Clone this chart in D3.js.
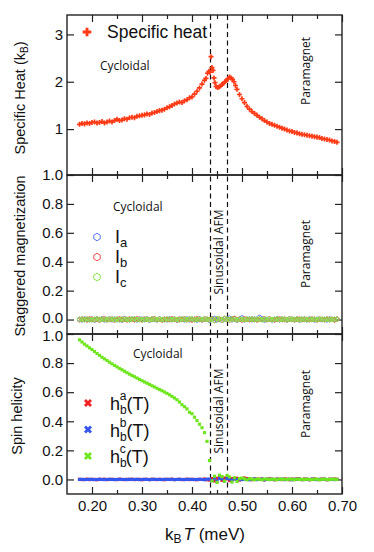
<!DOCTYPE html>
<html><head><meta charset="utf-8">
<script src="https://cdn.jsdelivr.net/npm/d3@7"></script>
<style>html,body{margin:0;padding:0;background:#fff;}svg{display:block;}</style>
</head><body><svg id="chart" width="374" height="552"></svg>
<script>
// ---------------- DATA ----------------
const xTickValues = [0.20, 0.30, 0.40, 0.50, 0.60, 0.70];
const xMinorTicks = [0.25, 0.35, 0.45, 0.55, 0.65];
const heatTicks = [1, 2, 3];
const fracTicks = [0.0, 0.2, 0.4, 0.6, 0.8, 1.0];
const transitions = [0.437, 0.471];

// specific heat
const heatT = [0.175,0.180,0.185,0.190,0.195,0.200,0.205,0.210,0.215,0.220,0.225,0.230,0.235,0.240,0.245,0.250,0.255,0.260,0.265,0.270,
  0.275,0.280,0.285,0.290,0.295,0.300,0.305,0.310,0.315,0.320,0.325,0.330,0.335,0.340,0.345,0.350,0.355,0.360,0.365,0.370,
  0.375,0.380,0.385,0.390,0.395,0.400,0.405,0.410,0.415,0.420,0.425,0.428,0.431,0.434,0.436,0.438,0.440,0.442,0.444,0.446,
  0.448,0.451,0.454,0.457,0.460,0.463,0.466,0.469,0.472,0.475,0.478,0.481,0.484,0.487,0.490,0.495,0.500,0.505,0.510,0.515,
  0.520,0.525,0.530,0.535,0.540,0.545,0.550,0.555,0.560,0.565,0.570,0.575,0.580,0.585,0.590,0.595,0.600,0.605,0.610,0.615,
  0.620,0.625,0.630,0.635,0.640,0.645,0.650,0.655,0.660,0.665,0.670,0.675,0.680,0.685,0.690];
const heatC = [1.10,1.12,1.11,1.13,1.12,1.14,1.15,1.13,1.14,1.16,1.13,1.15,1.17,1.15,1.18,1.21,1.18,1.19,1.22,1.21,
  1.24,1.25,1.24,1.27,1.28,1.29,1.30,1.32,1.31,1.34,1.35,1.37,1.39,1.40,1.42,1.45,1.47,1.50,1.53,1.55,
  1.57,1.56,1.60,1.62,1.66,1.68,1.74,1.80,1.87,1.95,2.03,2.07,2.18,2.22,2.20,2.53,2.30,2.24,2.08,1.98,
  1.90,1.88,1.89,1.91,1.94,1.97,2.00,2.03,2.06,2.10,2.08,2.05,2.00,1.92,1.84,1.73,1.64,1.56,1.48,1.42,
  1.37,1.33,1.29,1.25,1.22,1.18,1.15,1.12,1.10,1.08,1.06,1.04,1.02,1.00,0.98,0.96,0.95,0.93,0.92,0.90,
  0.89,0.88,0.87,0.86,0.85,0.84,0.83,0.82,0.80,0.79,0.78,0.77,0.75,0.74,0.72];

// common temperature grid for magnetization / helicity
const temps = [0.175,0.180,0.185,0.190,0.195,0.200,0.205,0.210,0.215,0.220,0.225,0.230,0.235,
  0.240,0.245,0.250,0.255,0.260,0.265,0.270,0.275,0.280,0.285,0.290,0.295,0.300,
  0.305,0.310,0.315,0.320,0.325,0.330,0.335,0.340,0.345,0.350,0.355,0.360,0.365,
  0.370,0.375,0.380,0.385,0.390,0.395,0.400,0.405,0.410,0.415,0.420,0.425,0.430,
  0.435,0.440,0.445,0.450,0.455,0.460,0.465,0.470,0.475,0.480,0.485,0.490,0.495,
  0.500,0.505,0.510,0.515,0.520,0.525,0.530,0.535,0.540,0.545,0.550,0.555,0.560,
  0.565,0.570,0.575,0.580,0.585,0.590,0.595,0.600,0.605,0.610,0.615,0.620,0.625,
  0.630,0.635,0.640,0.645,0.650,0.655,0.660,0.665,0.670,0.675,0.680,0.685,0.690];

// staggered magnetization
const magA = [.002,-.003,.004,.001,-.002,.003,-.004,.002,.000,.005,-.003,.001,.004,
  -.002,.003,-.001,.002,-.004,.006,.001,-.002,.003,.000,-.003,.004,.002,
  -.001,.003,-.005,.002,.001,-.003,.004,.000,.002,-.002,.005,-.001,.003,
  -.004,.002,.001,-.003,.004,-.002,.003,.001,-.004,.005,-.002,.003,.001,
  -.006,.004,.008,-.003,.002,-.006,.004,.003,.010,-.002,.004,-.005,.003,
  .012,-.003,.002,.004,-.002,.003,.000,.015,.005,-.004,.002,.003,-.003,
  .001,.004,-.002,.003,.000,-.003,.004,.002,-.001,.003,-.004,.002,.001,
  -.002,.004,.000,-.003,.002,.003,-.001,.002,-.003,.004,.001,-.002,.003];
const magB = [-.002,.004,.001,-.003,.005,.002,-.001,.003,-.004,.002,.006,-.002,.001,
  .003,-.004,.002,.005,-.001,.003,-.003,.004,.001,-.002,.005,.000,-.003,
  .004,.002,-.002,.003,.006,-.001,.002,-.004,.003,.001,-.002,.005,.002,
  -.003,.004,.001,.005,-.002,.003,-.004,.002,.006,.001,-.003,.004,.002,
  -.001,.003,-.006,.005,.002,-.004,.007,.001,-.003,.004,.008,-.002,.003,
  -.004,.005,.001,-.002,.004,.002,-.003,.003,.001,.005,-.002,.004,.000,
  -.003,.002,.005,-.001,.003,-.002,.004,.001,-.003,.002,.004,-.001,.003,
  .001,-.002,.004,.002,-.003,.003,.001,-.002,.004,.000,.002,-.003,.003];
const magC = [.001,.003,-.002,.004,.000,-.003,.002,.005,-.001,.003,.001,-.002,.004,
  .002,-.001,.003,-.003,.004,.001,.002,-.002,.003,.005,-.001,.002,-.003,
  .003,.001,-.002,.004,.002,-.001,.003,.000,-.003,.004,.002,-.001,.003,
  .001,-.003,.004,.002,-.001,.003,.005,-.002,.001,.003,-.001,.004,.002,
  -.003,.002,-.008,.006,.004,-.005,.007,.003,-.002,.005,.002,-.003,.004,
  .001,-.002,.003,.002,.004,-.001,.003,.002,-.002,.004,.001,.003,-.001,
  .002,.004,-.001,.003,.001,-.002,.003,.002,.000,.004,-.001,.002,.003,
  -.002,.003,.001,.002,-.001,.004,.002,.000,.003,-.002,.001,.003,.002];

// spin helicity
const helA = [.001,-.001,.000,.002,-.001,.001,.000,-.002,.001,.000,.002,-.001,.000,
  .001,.000,-.001,.002,.000,-.001,.001,.000,.002,-.001,.000,.001,-.002,
  .000,.001,-.001,.002,.000,-.001,.001,.000,-.002,.001,.000,.002,-.001,
  .000,.001,-.001,.000,.002,-.001,.001,.000,-.002,.001,.000,.003,-.002,
  -.004,.006,-.010,.008,.012,-.006,.010,.004,-.008,.006,.003,.008,-.004,
  .005,.010,.006,.003,-.002,.004,.002,.001,.003,-.003,.002,.004,.001,
  -.002,.003,.001,-.001,.004,.002,-.002,.003,.000,.005,.002,-.001,.003,
  .001,-.002,.002,.004,.000,-.001,.003,.001,-.002,.002,.000,.003,.001];
const helB = [.000,.001,-.001,.000,.001,.000,-.001,.000,.001,.000,-.001,.000,.001,
  .000,-.001,.000,.001,.000,.000,-.001,.001,.000,.000,.001,-.001,.000,
  .001,.000,-.001,.000,.001,.000,.000,-.001,.001,.000,.000,.001,-.001,
  .000,.001,.000,-.001,.000,.001,.000,-.001,.000,.001,.000,-.002,.002,
  .002,-.008,.010,-.012,.006,.004,-.010,.008,.003,-.005,.004,-.002,.002,
  -.001,.002,.000,-.002,.001,.003,-.001,.000,.002,-.002,.001,.000,.002,
  -.001,.001,.000,.002,-.001,.000,.001,-.002,.001,.000,.002,-.001,.000,
  .001,-.001,.002,.000,-.001,.001,.000,.002,-.001,.000,.001,-.001,.000];
const helC = [0.960,0.945,0.930,0.918,0.905,0.893,0.880,0.866,0.853,0.840,0.829,0.818,0.806,
  0.795,0.784,0.774,0.763,0.754,0.744,0.734,0.724,0.715,0.706,0.697,0.688,0.679,
  0.670,0.662,0.653,0.644,0.636,0.627,0.618,0.610,0.601,0.592,0.582,0.571,0.560,
  0.548,0.532,0.514,0.500,0.485,0.462,0.452,0.428,0.405,0.380,0.356,0.322,0.262,
  0.130,-0.010,0.022,-0.020,0.030,0.020,-0.012,0.028,0.018,-0.018,0.012,-0.014,0.006,
  0.010,0.004,-0.003,0.005,0.002,-0.002,0.003,0.001,-0.002,0.003,0.002,-0.001,0.002,
  0.001,-0.002,0.003,0.000,0.002,-0.001,0.002,0.001,-0.002,0.002,0.000,0.001,-0.001,
  0.002,0.000,-0.001,0.002,0.001,-0.002,0.001,0.002,0.000,-0.001,0.002,0.001,0.000];

// ---------------- LAYOUT ----------------
const svg = d3.select("#chart");
const L = 67, R = 342;
const panels = [{top: 15, bot: 175}, {top: 175, bot: 334}, {top: 334, bot: 494}];
const x = d3.scaleLinear().domain([0.15, 0.70]).range([L, R]);
const yHeat = d3.scaleLinear().domain([0.03, 3.41]).range([panels[0].bot, panels[0].top]);
const yMag = d3.scaleLinear().domain([-0.1, 1.0]).range([panels[1].bot, panels[1].top]);
const yHel = d3.scaleLinear().domain([-0.1, 1.0]).range([panels[2].bot, panels[2].top]);

const SANS = "'Liberation Sans', Arial, Helvetica, sans-serif";
const ANN = "'Open Sans', 'DejaVu Sans', sans-serif";
const AX = "#222";

const hexagon = {
  draw(ctx, size) {
    const r = Math.sqrt(size / 2.598);
    for (let i = 0; i < 6; i++) {
      const a = Math.PI / 6 + i * Math.PI / 3;
      const px = r * Math.cos(a), py = r * Math.sin(a);
      if (i === 0) ctx.moveTo(px, py); else ctx.lineTo(px, py);
    }
    ctx.closePath();
  }
};

function styleAxis(g) {
  g.select(".domain").remove();
  g.selectAll(".tick line").attr("stroke", AX).attr("stroke-width", 1.2);
  g.selectAll(".tick text").attr("font-family", SANS).attr("font-size", 15).attr("fill", "#111");
}

panels.forEach((p, i) => {
  const y = [yHeat, yMag, yHel][i];
  const yt = i === 0 ? heatTicks : fracTicks;
  const fmt = i === 0 ? d3.format("d") : d3.format(".1f");
  const left = svg.append("g").attr("transform", `translate(${L},0)`)
    .call(d3.axisLeft(y).tickValues(yt).tickSize(-7).tickPadding(4).tickFormat(fmt)).call(styleAxis);
  // keep the stacked 0.0 / 1.0 labels at the panel joins from touching
  if (i === 1) left.selectAll(".tick text").filter(d => d === 0).attr("y", -1.6);
  if (i === 2) left.selectAll(".tick text").filter(d => d === 1).attr("y", 1.6);
  svg.append("g").attr("transform", `translate(${R},0)`)
    .call(d3.axisRight(y).tickValues(yt).tickSize(-7).tickFormat("")).call(styleAxis);
  svg.append("g").attr("transform", `translate(0,${p.bot})`)
    .call(d3.axisBottom(x).tickValues(xTickValues).tickSize(-7).tickPadding(6)
      .tickFormat(i === 2 ? d3.format(".2f") : "")).call(styleAxis);
  svg.append("g").attr("transform", `translate(0,${p.bot})`)
    .call(d3.axisBottom(x).tickValues(xMinorTicks).tickSize(-4).tickFormat("")).call(styleAxis);
  svg.append("g").attr("transform", `translate(0,${p.top})`)
    .call(d3.axisTop(x).tickValues(xTickValues).tickSize(-7).tickFormat("")).call(styleAxis);
  svg.append("g").attr("transform", `translate(0,${p.top})`)
    .call(d3.axisTop(x).tickValues(xMinorTicks).tickSize(-4).tickFormat("")).call(styleAxis);
  svg.append("rect").attr("x", L).attr("y", p.top).attr("width", R - L).attr("height", p.bot - p.top)
    .attr("fill", "none").attr("stroke", AX).attr("stroke-width", 1.4);
});

// dashed transition lines
svg.append("g").selectAll("line").data(transitions).join("line")
  .attr("x1", d => x(d)).attr("x2", d => x(d))
  .attr("y1", panels[0].top).attr("y2", panels[2].bot)
  .attr("stroke", "#111").attr("stroke-width", 1.2).attr("stroke-dasharray", "5,3.5");

// ---------------- MARKS ----------------
const cHeat = "#ff3a14";
const heatData = heatT.map((t, i) => ({t, v: heatC[i]}));
svg.append("g").selectAll("path").data(heatData).join("path")
  .attr("transform", d => `translate(${x(d.t)},${yHeat(d.v)})`)
  .attr("d", d3.symbol().type(d3.symbolCross).size(14)).attr("fill", cHeat);

const magSeries = [
  {vals: magA, color: "#5a78ff"},
  {vals: magB, color: "#ff4a4a"},
  {vals: magC, color: "#86e64a"}
];
magSeries.forEach(s => {
  const data = temps.map((t, i) => ({t, v: s.vals[i]})).filter(d => d.v !== undefined);
  svg.append("g").selectAll("path").data(data).join("path")
    .attr("transform", d => `translate(${x(d.t)},${yMag(d.v)})`)
    .attr("d", d3.symbol().type(hexagon).size(14))
    .attr("fill", "none").attr("stroke", s.color).attr("stroke-width", 1);
});

const helSeries = [
  {vals: helA, color: "#ee2222"},
  {vals: helB, color: "#3556ee"},
  {vals: helC, color: "#6ee61e"}
];
helSeries.forEach(s => {
  const data = temps.map((t, i) => ({t, v: s.vals[i]})).filter(d => d.v !== undefined);
  svg.append("g").selectAll("path").data(data).join("path")
    .attr("transform", d => `translate(${x(d.t)},${yHel(d.v)})`)
    .attr("d", d3.symbol().type(d3.symbolSquare).size(10)).attr("fill", s.color);
});

// ---------------- TEXT ----------------
function txt(xp, yp, s, size, family, rot, anchor) {
  const t = svg.append("text").attr("font-family", family).attr("font-size", size).attr("fill", "#111")
    .attr("text-anchor", anchor || "start");
  if (rot) t.attr("transform", `translate(${xp},${yp}) rotate(${rot})`);
  else t.attr("x", xp).attr("y", yp);
  return t;
}
let t1 = txt(25, 98, "", 14.5, SANS, -90, "middle");
t1.append("tspan").text("Specific Heat (k");
t1.append("tspan").text("B").attr("font-size", 10).attr("dy", 3);
t1.append("tspan").text(")").attr("dy", -3);
txt(25, 256, "", 14.5, SANS, -90, "middle").text("Staggered magnetization");
txt(22, 416, "", 14.5, SANS, -90, "middle").text("Spin helicity");
let tx = txt(205, 540, "", 17, SANS, 0, "middle");
tx.append("tspan").text("k");
tx.append("tspan").text("B").attr("font-size", 12).attr("dy", 3);
tx.append("tspan").text("T").attr("font-style", "italic").attr("dy", -3).attr("dx", 2);
tx.append("tspan").text(" (meV)");

txt(100, 70, "", 12, ANN).text("Cycloidal");
txt(113, 211, "", 12, ANN).text("Cycloidal");
txt(133, 358, "", 12, ANN).text("Cycloidal");
[71, 254, 404].forEach(cy => txt(310, cy, "", 12, ANN, -90, "middle").text("Paramagnet"));
[252, 411].forEach(cy => txt(223, cy, "", 12, ANN, -90, "middle").text("Sinusoidal AFM"));

// legends
svg.append("path").attr("transform", "translate(87,32)")
  .attr("d", d3.symbol().type(d3.symbolCross).size(42)).attr("fill", cHeat);
txt(107, 38, "", 17.5, SANS).text("Specific heat");

const magLabels = ["a", "b", "c"];
magSeries.forEach((s, i) => {
  const cy = 237 + i * 20;
  svg.append("path").attr("transform", `translate(97,${cy})`)
    .attr("d", d3.symbol().type(hexagon).size(36)).attr("fill", "none").attr("stroke", s.color).attr("stroke-width", 1);
  const t = txt(115, cy + 6, "", 18, SANS);
  t.append("tspan").text("I");
  t.append("tspan").text(magLabels[i]).attr("font-size", 13).attr("dy", 4);
});

helSeries.forEach((s, i) => {
  const cy = 403 + i * 26.5;
  svg.append("path").attr("transform", `translate(88,${cy}) rotate(45)`)
    .attr("d", d3.symbol().type(d3.symbolCross).size(40)).attr("fill", s.color);
  const t = txt(110, cy + 7, "", 18, SANS);
  t.append("tspan").text("h");
  t.append("tspan").text("b").attr("font-size", 12).attr("dy", 4);
  t.append("tspan").text(magLabels[i]).attr("font-size", 12).attr("dy", -14).attr("dx", -7);
  t.append("tspan").text("(T)").attr("dy", 10);
});
</script>
</body></html>
